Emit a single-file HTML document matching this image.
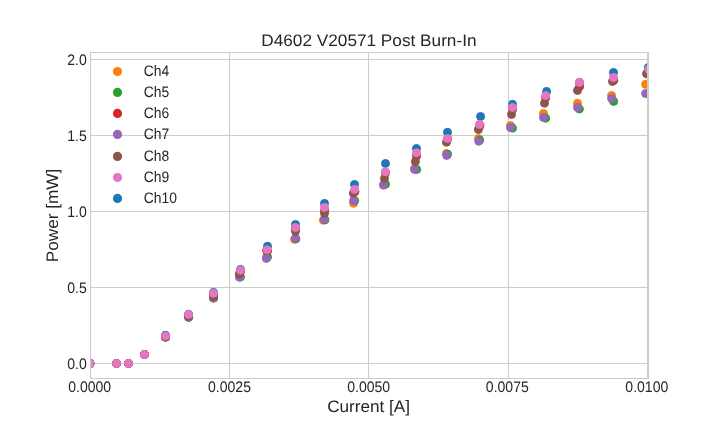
<!DOCTYPE html>
<html><head><meta charset="utf-8"><title>D4602 V20571 Post Burn-In</title>
<style>html,body{margin:0;padding:0;background:#fff}svg{display:block;text-rendering:geometricPrecision}text{font-family:"Liberation Sans",sans-serif;fill:#262626}</style></head><body>
<svg width="720" height="432" viewBox="0 0 720 432">
<rect width="720" height="432" fill="#ffffff"/>
<defs><clipPath id="ax"><rect x="90" y="52" width="558" height="326"/></clipPath></defs>
<g stroke="#cccccc" stroke-width="1.1" fill="none"><line x1="229.5" x2="229.5" y1="52" y2="378"/><line x1="368.5" x2="368.5" y1="52" y2="378"/><line x1="508.5" x2="508.5" y1="52" y2="378"/><line x1="90" x2="648" y1="59.5" y2="59.5"/><line x1="90" x2="648" y1="135.5" y2="135.5"/><line x1="90" x2="648" y1="211.5" y2="211.5"/><line x1="90" x2="648" y1="287.5" y2="287.5"/><line x1="90" x2="648" y1="363.5" y2="363.5"/></g>
<g clip-path="url(#ax)">
<g fill="#1f77b4" stroke="#1f77b4" stroke-width="1"><circle cx="90" cy="363.5" r="4.0"/><circle cx="116.5" cy="363.5" r="4.0"/><circle cx="128.5" cy="363.5" r="4.0"/><circle cx="144.5" cy="354.5" r="4.0"/><circle cx="165.5" cy="335.3" r="4.0"/><circle cx="188.6" cy="314.2" r="4.0"/><circle cx="213.5" cy="292.4" r="4.0"/><circle cx="240.5" cy="269.4" r="4.0"/><circle cx="267.5" cy="246.2" r="4.0"/><circle cx="295.5" cy="224.5" r="4.0"/><circle cx="324.5" cy="203.4" r="4.0"/><circle cx="354.5" cy="184.5" r="4.0"/><circle cx="385.5" cy="163.5" r="4.0"/><circle cx="416.5" cy="148.5" r="4.0"/><circle cx="447.5" cy="132.3" r="4.0"/><circle cx="480.6" cy="116.5" r="4.0"/><circle cx="512.5" cy="104.3" r="4.0"/><circle cx="546.6" cy="91.4" r="4.0"/><circle cx="579.5" cy="82.5" r="4.0"/><circle cx="613.5" cy="72.5" r="4.0"/><circle cx="648.4" cy="67.4" r="4.0"/></g>
<g fill="#ff7f0e" stroke="#ff7f0e" stroke-width="1"><circle cx="90" cy="363.5" r="4.0"/><circle cx="116.5" cy="363.5" r="4.0"/><circle cx="128.5" cy="363.5" r="4.0"/><circle cx="144.5" cy="354.5" r="4.0"/><circle cx="165.5" cy="337.3" r="4.0"/><circle cx="188.6" cy="317.2" r="4.0"/><circle cx="213.5" cy="298" r="4.0"/><circle cx="239.5" cy="277" r="4.0"/><circle cx="266.5" cy="257" r="4.0"/><circle cx="294.5" cy="239.3" r="4.0"/><circle cx="323.4" cy="220.3" r="4.0"/><circle cx="353.5" cy="203.3" r="4.0"/><circle cx="383.5" cy="185.3" r="4.0"/><circle cx="414.5" cy="168.5" r="4.0"/><circle cx="446.4" cy="153.6" r="4.0"/><circle cx="478.5" cy="138.5" r="4.0"/><circle cx="510.5" cy="125.5" r="4.0"/><circle cx="543.5" cy="113.5" r="4.0"/><circle cx="577.5" cy="103.2" r="4.0"/><circle cx="611.6" cy="95.4" r="4.0"/><circle cx="645.6" cy="84.35" r="4.0"/></g>
<g fill="#2ca02c" stroke="#2ca02c" stroke-width="1"><circle cx="90" cy="363.5" r="4.0"/><circle cx="116.5" cy="363.5" r="4.0"/><circle cx="128.5" cy="363.5" r="4.0"/><circle cx="144.5" cy="354.5" r="4.0"/><circle cx="165.5" cy="337" r="4.0"/><circle cx="188.6" cy="317.2" r="4.0"/><circle cx="213.5" cy="298" r="4.0"/><circle cx="240.5" cy="277" r="4.0"/><circle cx="267.5" cy="257" r="4.0"/><circle cx="295.9" cy="238.9" r="4.0"/><circle cx="325" cy="219.8" r="4.0"/><circle cx="354.7" cy="200.7" r="4.0"/><circle cx="385.5" cy="184.2" r="4.0"/><circle cx="416.7" cy="169.4" r="4.0"/><circle cx="447.6" cy="154.2" r="4.0"/><circle cx="479.7" cy="140.1" r="4.0"/><circle cx="512.5" cy="128.2" r="4.0"/><circle cx="545.6" cy="118.2" r="4.0"/><circle cx="579.4" cy="109" r="4.0"/><circle cx="613.7" cy="101.4" r="4.0"/><circle cx="648.3" cy="93.5" r="4.0"/></g>
<g fill="#d62728" stroke="#d62728" stroke-width="1"><circle cx="90" cy="363.5" r="4.0"/><circle cx="116.5" cy="363.5" r="4.0"/><circle cx="128.5" cy="363.5" r="4.0"/><circle cx="144.5" cy="354.5" r="4.0"/><circle cx="165.5" cy="336.2" r="4.0"/><circle cx="188.6" cy="314.8" r="4.0"/><circle cx="213.5" cy="294" r="4.0"/><circle cx="240.6" cy="271.5" r="4.0"/><circle cx="267.5" cy="251" r="4.0"/><circle cx="295.5" cy="229" r="4.0"/><circle cx="324.6" cy="210.5" r="4.0"/><circle cx="355" cy="191.6" r="4.0"/><circle cx="385.5" cy="172.8" r="4.0"/><circle cx="416.5" cy="156.1" r="4.0"/><circle cx="447.7" cy="139" r="4.0"/><circle cx="480" cy="125.6" r="4.0"/><circle cx="512.6" cy="109.2" r="4.0"/><circle cx="545.6" cy="97.8" r="4.0"/><circle cx="579.6" cy="86.4" r="4.0"/><circle cx="613.8" cy="80.3" r="4.0"/><circle cx="649" cy="74.5" r="4.0"/></g>
<g fill="#9467bd" stroke="#9467bd" stroke-width="1"><circle cx="90" cy="363.5" r="4.0"/><circle cx="116.5" cy="363.5" r="4.0"/><circle cx="128.5" cy="363.5" r="4.0"/><circle cx="144.5" cy="354.5" r="4.0"/><circle cx="165.5" cy="337" r="4.0"/><circle cx="188.6" cy="317.4" r="4.0"/><circle cx="213.5" cy="298.2" r="4.0"/><circle cx="239.6" cy="277.2" r="4.0"/><circle cx="266.4" cy="258.4" r="4.0"/><circle cx="295.5" cy="238.2" r="4.0"/><circle cx="324.4" cy="219.3" r="4.0"/><circle cx="353.6" cy="200.5" r="4.0"/><circle cx="383.5" cy="184.7" r="4.0"/><circle cx="414.6" cy="169.5" r="4.0"/><circle cx="446.7" cy="155.4" r="4.0"/><circle cx="478.75" cy="141.2" r="4.0"/><circle cx="510.5" cy="127.5" r="4.0"/><circle cx="543.5" cy="117.5" r="4.0"/><circle cx="577.5" cy="107.4" r="4.0"/><circle cx="611.6" cy="98.5" r="4.0"/><circle cx="645.6" cy="93.55" r="4.0"/></g>
<g fill="#8c564b" stroke="#8c564b" stroke-width="1"><circle cx="90" cy="363.5" r="4.0"/><circle cx="116.5" cy="363.5" r="4.0"/><circle cx="128.5" cy="363.5" r="4.0"/><circle cx="144.5" cy="354.5" r="4.0"/><circle cx="165.5" cy="337.2" r="4.0"/><circle cx="188.6" cy="316.3" r="4.0"/><circle cx="213.5" cy="296.7" r="4.0"/><circle cx="239.3" cy="274" r="4.0"/><circle cx="266.5" cy="250.5" r="4.0"/><circle cx="295.5" cy="231.3" r="4.0"/><circle cx="324.5" cy="213.2" r="4.0"/><circle cx="353.4" cy="193.2" r="4.0"/><circle cx="384.5" cy="178.4" r="4.0"/><circle cx="415.4" cy="161.5" r="4.0"/><circle cx="446.5" cy="142.2" r="4.0"/><circle cx="478.4" cy="129.5" r="4.0"/><circle cx="511.5" cy="114.4" r="4.0"/><circle cx="544.5" cy="103.2" r="4.0"/><circle cx="577.5" cy="90.4" r="4.0"/><circle cx="612.5" cy="81.4" r="4.0"/><circle cx="646.5" cy="73.7" r="4.0"/></g>
<g fill="#e377c2" stroke="#e377c2" stroke-width="1"><circle cx="90" cy="363.5" r="4.0"/><circle cx="116.5" cy="363.5" r="4.0"/><circle cx="128.5" cy="363.5" r="4.0"/><circle cx="144.5" cy="354.5" r="4.0"/><circle cx="165.5" cy="336" r="4.0"/><circle cx="188.6" cy="314.4" r="4.0"/><circle cx="213.5" cy="293.3" r="4.0"/><circle cx="240.5" cy="270.2" r="4.0"/><circle cx="267.1" cy="249.8" r="4.0"/><circle cx="295.5" cy="227.5" r="4.0"/><circle cx="324.5" cy="207.4" r="4.0"/><circle cx="354.6" cy="189.4" r="4.0"/><circle cx="385.4" cy="171.8" r="4.0"/><circle cx="416.5" cy="152.8" r="4.0"/><circle cx="447.5" cy="138.5" r="4.0"/><circle cx="479.5" cy="124.4" r="4.0"/><circle cx="512.5" cy="107.5" r="4.0"/><circle cx="545.6" cy="95.6" r="4.0"/><circle cx="579.5" cy="82.4" r="4.0"/><circle cx="613.5" cy="77.4" r="4.0"/><circle cx="648.8" cy="69.2" r="4.0"/></g>
</g>
<g fill="#cccccc"><rect x="90" y="52" width="559" height="1"/><rect x="90" y="378" width="559" height="1"/><rect x="90" y="52" width="1.15" height="327"/><rect x="647" y="52" width="2" height="327"/></g>
<g style="opacity:0.999">
<text transform="translate(368.9 45.6) scale(1.033 1)" font-size="16.67" text-anchor="middle">D4602 V20571 Post Burn-In</text>
<text transform="translate(89.7 392) scale(1.012 1.1)" font-size="13.89" text-anchor="middle">0.0000</text>
<text transform="translate(229.5 392) scale(1.012 1.1)" font-size="13.89" text-anchor="middle">0.0025</text>
<text transform="translate(368.7 392) scale(1.012 1.1)" font-size="13.89" text-anchor="middle">0.0050</text>
<text transform="translate(507.3 392) scale(1.012 1.1)" font-size="13.89" text-anchor="middle">0.0075</text>
<text transform="translate(646.8 392) scale(1.012 1.1)" font-size="13.89" text-anchor="middle">0.0100</text>
<text transform="translate(86.8 64.65) scale(1.012 1.1)" font-size="13.89" text-anchor="end">2.0</text>
<text transform="translate(86.8 140.65) scale(1.012 1.1)" font-size="13.89" text-anchor="end">1.5</text>
<text transform="translate(86.8 216.65) scale(1.012 1.1)" font-size="13.89" text-anchor="end">1.0</text>
<text transform="translate(86.8 292.65) scale(1.012 1.1)" font-size="13.89" text-anchor="end">0.5</text>
<text transform="translate(86.8 368.65) scale(1.012 1.1)" font-size="13.89" text-anchor="end">0.0</text>
<text transform="translate(368.6 411.9) scale(1.03 1)" font-size="16.67" text-anchor="middle">Current [A]</text>
<text transform="translate(57.6 215.5) rotate(-90) scale(1.03 1)" font-size="16.67" text-anchor="middle">Power [mW]</text>
<circle cx="117.5" cy="71.50" r="4.6" fill="#ff7f0e"/>
<text transform="translate(143.8 75.6) scale(1 1.09)" font-size="13.89">Ch4</text>
<circle cx="117.5" cy="92.40" r="4.6" fill="#2ca02c"/>
<text transform="translate(143.8 96.6) scale(1 1.09)" font-size="13.89">Ch5</text>
<circle cx="117.5" cy="113.40" r="4.6" fill="#d62728"/>
<text transform="translate(143.8 117.6) scale(1 1.09)" font-size="13.89">Ch6</text>
<circle cx="117.5" cy="134.40" r="4.6" fill="#9467bd"/>
<text transform="translate(143.8 138.7) scale(1 1.09)" font-size="13.89">Ch7</text>
<circle cx="117.5" cy="156.40" r="4.6" fill="#8c564b"/>
<text transform="translate(143.8 160.7) scale(1 1.09)" font-size="13.89">Ch8</text>
<circle cx="117.5" cy="177.50" r="4.6" fill="#e377c2"/>
<text transform="translate(143.8 181.7) scale(1 1.09)" font-size="13.89">Ch9</text>
<circle cx="117.5" cy="198.40" r="4.6" fill="#1f77b4"/>
<text transform="translate(143.8 202.7) scale(1 1.09)" font-size="13.89">Ch10</text>
</g>
</svg></body></html>
